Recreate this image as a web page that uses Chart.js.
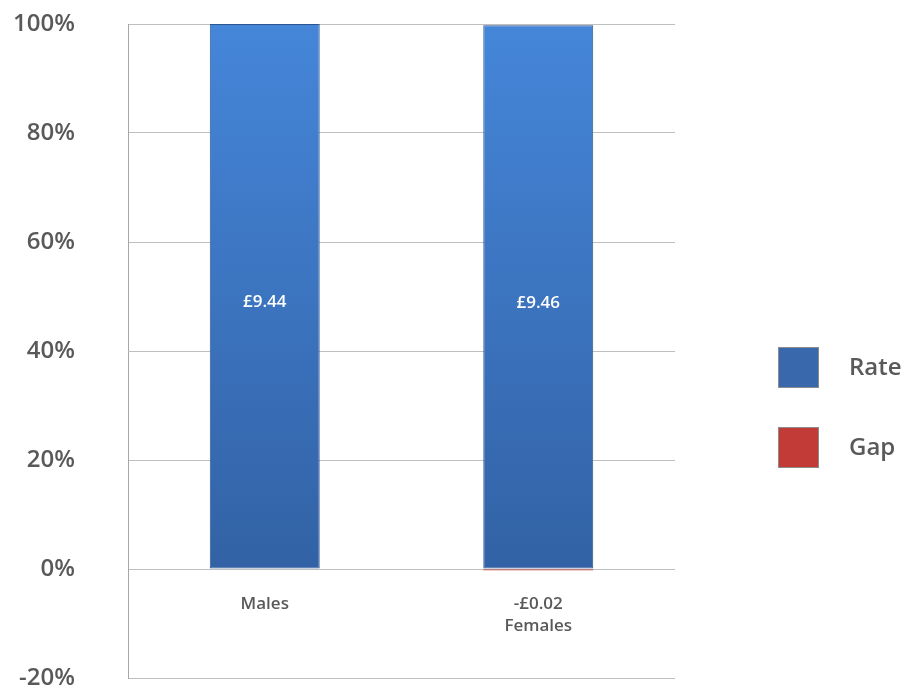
<!DOCTYPE html>
<html>
<head>
<meta charset="utf-8">
<script src="https://cdn.jsdelivr.net/npm/chart.js@4.4.1/dist/chart.umd.min.js"></script>
<style>
  html, body { margin: 0; padding: 0; background: #ffffff; }
  #wrap { width: 906px; height: 689px; position: relative; }
</style>
</head>
<body>
<div id="wrap"><canvas id="c" width="906" height="689"></canvas></div>
<script>
// ---- data ----
const categories = ["Males", "Females"];
const rateValues = [9.44, 9.46];     // £ per hour
const gapValues  = [0, -0.02];       // £ difference
const seriesNames = ["Rate", "Gap"];
const yTicks = [-20, 0, 20, 40, 60, 80, 100];

// ---- helpers ----
function money(v) { return (v < 0 ? "-" : "") + "£" + Math.abs(v).toFixed(2); }
const totals = rateValues.map((r, i) => r + Math.abs(gapValues[i]));
const ratePct = rateValues.map((r, i) => r / totals[i] * 100);
const gapPct  = gapValues.map((g, i) => g / totals[i] * 100);
const xLabels = categories.map((c, i) => gapValues[i] !== 0 ? [money(gapValues[i]), c] : c);

const FONT = "'Open Sans', 'Noto Sans', sans-serif";
const TXT = "#595959";
const GRID = "#BFBFBF";
const RATE_COLOR = "#3A68AD";
const GAP_COLOR = "#C23B36";

function rateGradient(ctx) {
  const chart = ctx.chart;
  const area = chart.chartArea;
  if (!area) return RATE_COLOR;
  const y = chart.scales.y;
  const g = chart.ctx.createLinearGradient(0, y.getPixelForValue(100), 0, y.getPixelForValue(0));
  g.addColorStop(0, "#4586D9");
  g.addColorStop(1, "#3262A5");
  return g;
}

const labelPlugin = {
  id: "barLabels",
  afterDatasetsDraw(chart) {
    const ctx = chart.ctx;
    const meta = chart.getDatasetMeta(0);
    ctx.save();
    ctx.fillStyle = "#ffffff";
    ctx.font = "600 17px " + FONT;
    ctx.textAlign = "center";
    ctx.textBaseline = "middle";
    meta.data.forEach((bar, i) => {
      const p = bar.getProps(["x", "y", "base"], true);
      ctx.fillText(money(rateValues[i]), p.x, (p.y + p.base) / 2 + 6);
    });
    ctx.restore();
  }
};

const legendPlugin = {
  id: "sideLegend",
  afterDraw(chart) {
    const ctx = chart.ctx;
    const x = 778, size = 41, y0 = 347, step = 80;
    ctx.save();
    chart.data.datasets.forEach((ds, i) => {
      const y = y0 + i * step;
      ctx.fillStyle = ds.legendColor;
      ctx.fillRect(x, y, size, size);
      ctx.strokeStyle = "#8C8C8C";
      ctx.lineWidth = 1;
      ctx.strokeRect(x + 0.5, y + 0.5, size - 1, size - 1);
      ctx.fillStyle = TXT;
      ctx.font = "600 24px " + FONT;
      ctx.textAlign = "left";
      ctx.textBaseline = "middle";
      ctx.fillText(ds.label, 849, y + size / 2 + 1);
    });
    ctx.restore();
  }
};

new Chart(document.getElementById("c"), {
  type: "bar",
  data: {
    labels: xLabels,
    datasets: [
      {
        label: seriesNames[0],
        data: ratePct,
        backgroundColor: rateGradient,
        legendColor: RATE_COLOR,
        borderColor: "#2C5690",
        borderWidth: 1,
        borderSkipped: false
      },
      {
        label: seriesNames[1],
        data: gapPct,
        backgroundColor: GAP_COLOR,
        legendColor: GAP_COLOR,
        borderWidth: 0
      }
    ]
  },
  options: {
    responsive: false,
    animation: false,
    layout: { padding: { top: 24, right: 231, bottom: 11, left: 0 } },
    datasets: { bar: { categoryPercentage: 1, barPercentage: 0.402 } },
    plugins: { legend: { display: false }, tooltip: { enabled: false } },
    scales: {
      x: {
        stacked: true,
        position: { y: 0 },
        grid: { display: false, drawTicks: false },
        border: { display: false },
        ticks: {
          color: TXT,
          padding: 24,
          maxRotation: 0,
          font: { family: FONT, size: 17, weight: "600", lineHeight: 1.3 }
        }
      },
      y: {
        stacked: true,
        min: -20,
        max: 100,
        afterBuildTicks(scale) { scale.ticks = yTicks.map(v => ({ value: v })); },
        afterFit(scale) { scale.width = 128; scale.paddingTop = 0; scale.paddingBottom = 0; },
        grid: { color: GRID, drawTicks: false, lineWidth: 1 },
        border: { display: true, color: "#A6A6A6" },
        ticks: {
          color: TXT,
          padding: 53,
          font: { family: FONT, size: 24, weight: "600" },
          callback: v => v + "%"
        }
      }
    }
  },
  plugins: [labelPlugin, legendPlugin]
});
</script>
</body>
</html>
